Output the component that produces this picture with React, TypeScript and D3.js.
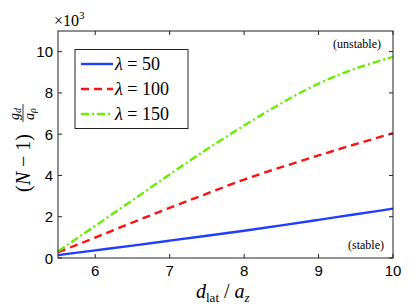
import React from 'react'
import * as d3 from 'd3'

const xs = [5.5, 6, 6.5, 7, 7.5, 8, 8.5, 9, 9.5, 10]
const lambda50 = [0.14, 0.37, 0.6, 0.84, 1.08, 1.32, 1.58, 1.85, 2.12, 2.39]
const lambda100 = [0.28, 0.99, 1.72, 2.43, 3.12, 3.8, 4.4, 4.97, 5.52, 6.05]
const lambda150 = [0.33, 1.56, 2.8, 4.05, 5.27, 6.42, 7.5, 8.45, 9.18, 9.75]
const seriesNames = ['50', '100', '150']
const xTicks = [6, 7, 8, 9, 10]
const yTicks = [0, 2, 4, 6, 8, 10]

const W = 415
const H = 308
const m = { left: 58, right: 22, top: 31, bottom: 50 }
const serif = '"Liberation Serif", "DejaVu Serif", serif'
const sans = '"Liberation Sans", Arial, sans-serif'

export default function App() {
  const x = d3.scaleLinear().domain([5.5, 10]).range([m.left, W - m.right])
  const y = d3.scaleLinear().domain([0, 11]).range([H - m.bottom, m.top])
  const line = d3.line<number>().x((_, i) => x(xs[i])).y(d => y(d)).curve(d3.curveNatural)

  const series = [
    { vals: lambda50, color: '#1f3cff', dash: 'none' },
    { vals: lambda100, color: '#ff1010', dash: '8,5' },
    { vals: lambda150, color: '#66ee00', dash: '8,3,2,3' },
  ]

  const x0 = m.left, x1 = W - m.right, y0 = H - m.bottom, y1 = m.top
  const tl = 4

  return (
    <svg width={W} height={H} style={{ position: 'absolute', left: 0, top: 0, background: '#fff' }}>
      <rect x={0} y={0} width={W} height={H} fill="#fff" />
      <g>
        {series.map((s, i) => (
          <path key={i} d={line(s.vals) || ''} fill="none" stroke={s.color} strokeWidth={2.4}
            strokeDasharray={s.dash} />
        ))}
      </g>
      {/* axes box */}
      <rect x={x0} y={y1} width={x1 - x0} height={y0 - y1} fill="none" stroke="#222" strokeWidth={1} />
      {xTicks.map(t => (
        <g key={'x' + t}>
          <line x1={x(t)} x2={x(t)} y1={y0} y2={y0 - tl} stroke="#222" />
          <line x1={x(t)} x2={x(t)} y1={y1} y2={y1 + tl} stroke="#222" />
          <text x={x(t)} y={y0 + 18} textAnchor="middle" fontFamily={sans} fontSize={15} fill="#000">{t}</text>
        </g>
      ))}
      {yTicks.map(t => (
        <g key={'y' + t}>
          <line x1={x0} x2={x0 + tl} y1={y(t)} y2={y(t)} stroke="#222" />
          <line x1={x1} x2={x1 - tl} y1={y(t)} y2={y(t)} stroke="#222" />
          <text x={x0 - 5} y={y(t) + 5.5} textAnchor="end" fontFamily={sans} fontSize={15} fill="#000">{t}</text>
        </g>
      ))}
      {/* exponent */}
      <text x={54} y={26} fontFamily={serif} fontSize={16} fill="#000">
        ×10<tspan dy={-7} fontSize={11}>3</tspan>
      </text>
      {/* annotations */}
      <text x={381} y={48} textAnchor="end" fontFamily={serif} fontSize={12} fill="#000">(unstable)</text>
      <text x={384} y={249} textAnchor="end" fontFamily={serif} fontSize={12} fill="#000">(stable)</text>
      {/* legend */}
      <g>
        <rect x={75} y={49.5} width={113} height={79} fill="#fff" stroke="#222" strokeWidth={1} />
        {series.map((s, i) => (
          <g key={'l' + i} transform={`translate(0,${64 + i * 25})`}>
            <line x1={81} x2={113} y1={0} y2={0} stroke={s.color} strokeWidth={2.4} strokeDasharray={s.dash} />
            <text x={115} y={6} fontFamily={serif} fontSize={18} fill="#000">
              <tspan fontStyle="italic">λ</tspan> = {seriesNames[i]}
            </text>
          </g>
        ))}
      </g>
      {/* x label */}
      <text x={196} y={298} fontFamily={serif} fontSize={20} fill="#000">
        <tspan fontStyle="italic">d</tspan>
        <tspan fontSize={13} dy={4}>lat</tspan>
        <tspan dy={-4}> / </tspan>
        <tspan fontStyle="italic">a</tspan>
        <tspan fontSize={13} dy={4} fontStyle="italic">z</tspan>
      </text>
      {/* y label */}
      <g transform="translate(30,192) rotate(-90)">
        <text x={0} y={0} fontFamily={serif} fontSize={20} fill="#000">
          (<tspan fontStyle="italic">N</tspan> − 1)
        </text>
        <line x1={70} x2={88} y1={-7} y2={-7} stroke="#000" strokeWidth={0.8} />
        <text x={72} y={-11} fontFamily={serif} fontSize={14} fill="#000">
          <tspan fontStyle="italic">g</tspan><tspan fontSize={10} dy={2} fontStyle="italic">d</tspan>
        </text>
        <text x={72} y={4} fontFamily={serif} fontSize={14} fill="#000">
          <tspan fontStyle="italic">a</tspan><tspan fontSize={10} dy={2} fontStyle="italic">ρ</tspan>
        </text>
      </g>
    </svg>
  )
}
